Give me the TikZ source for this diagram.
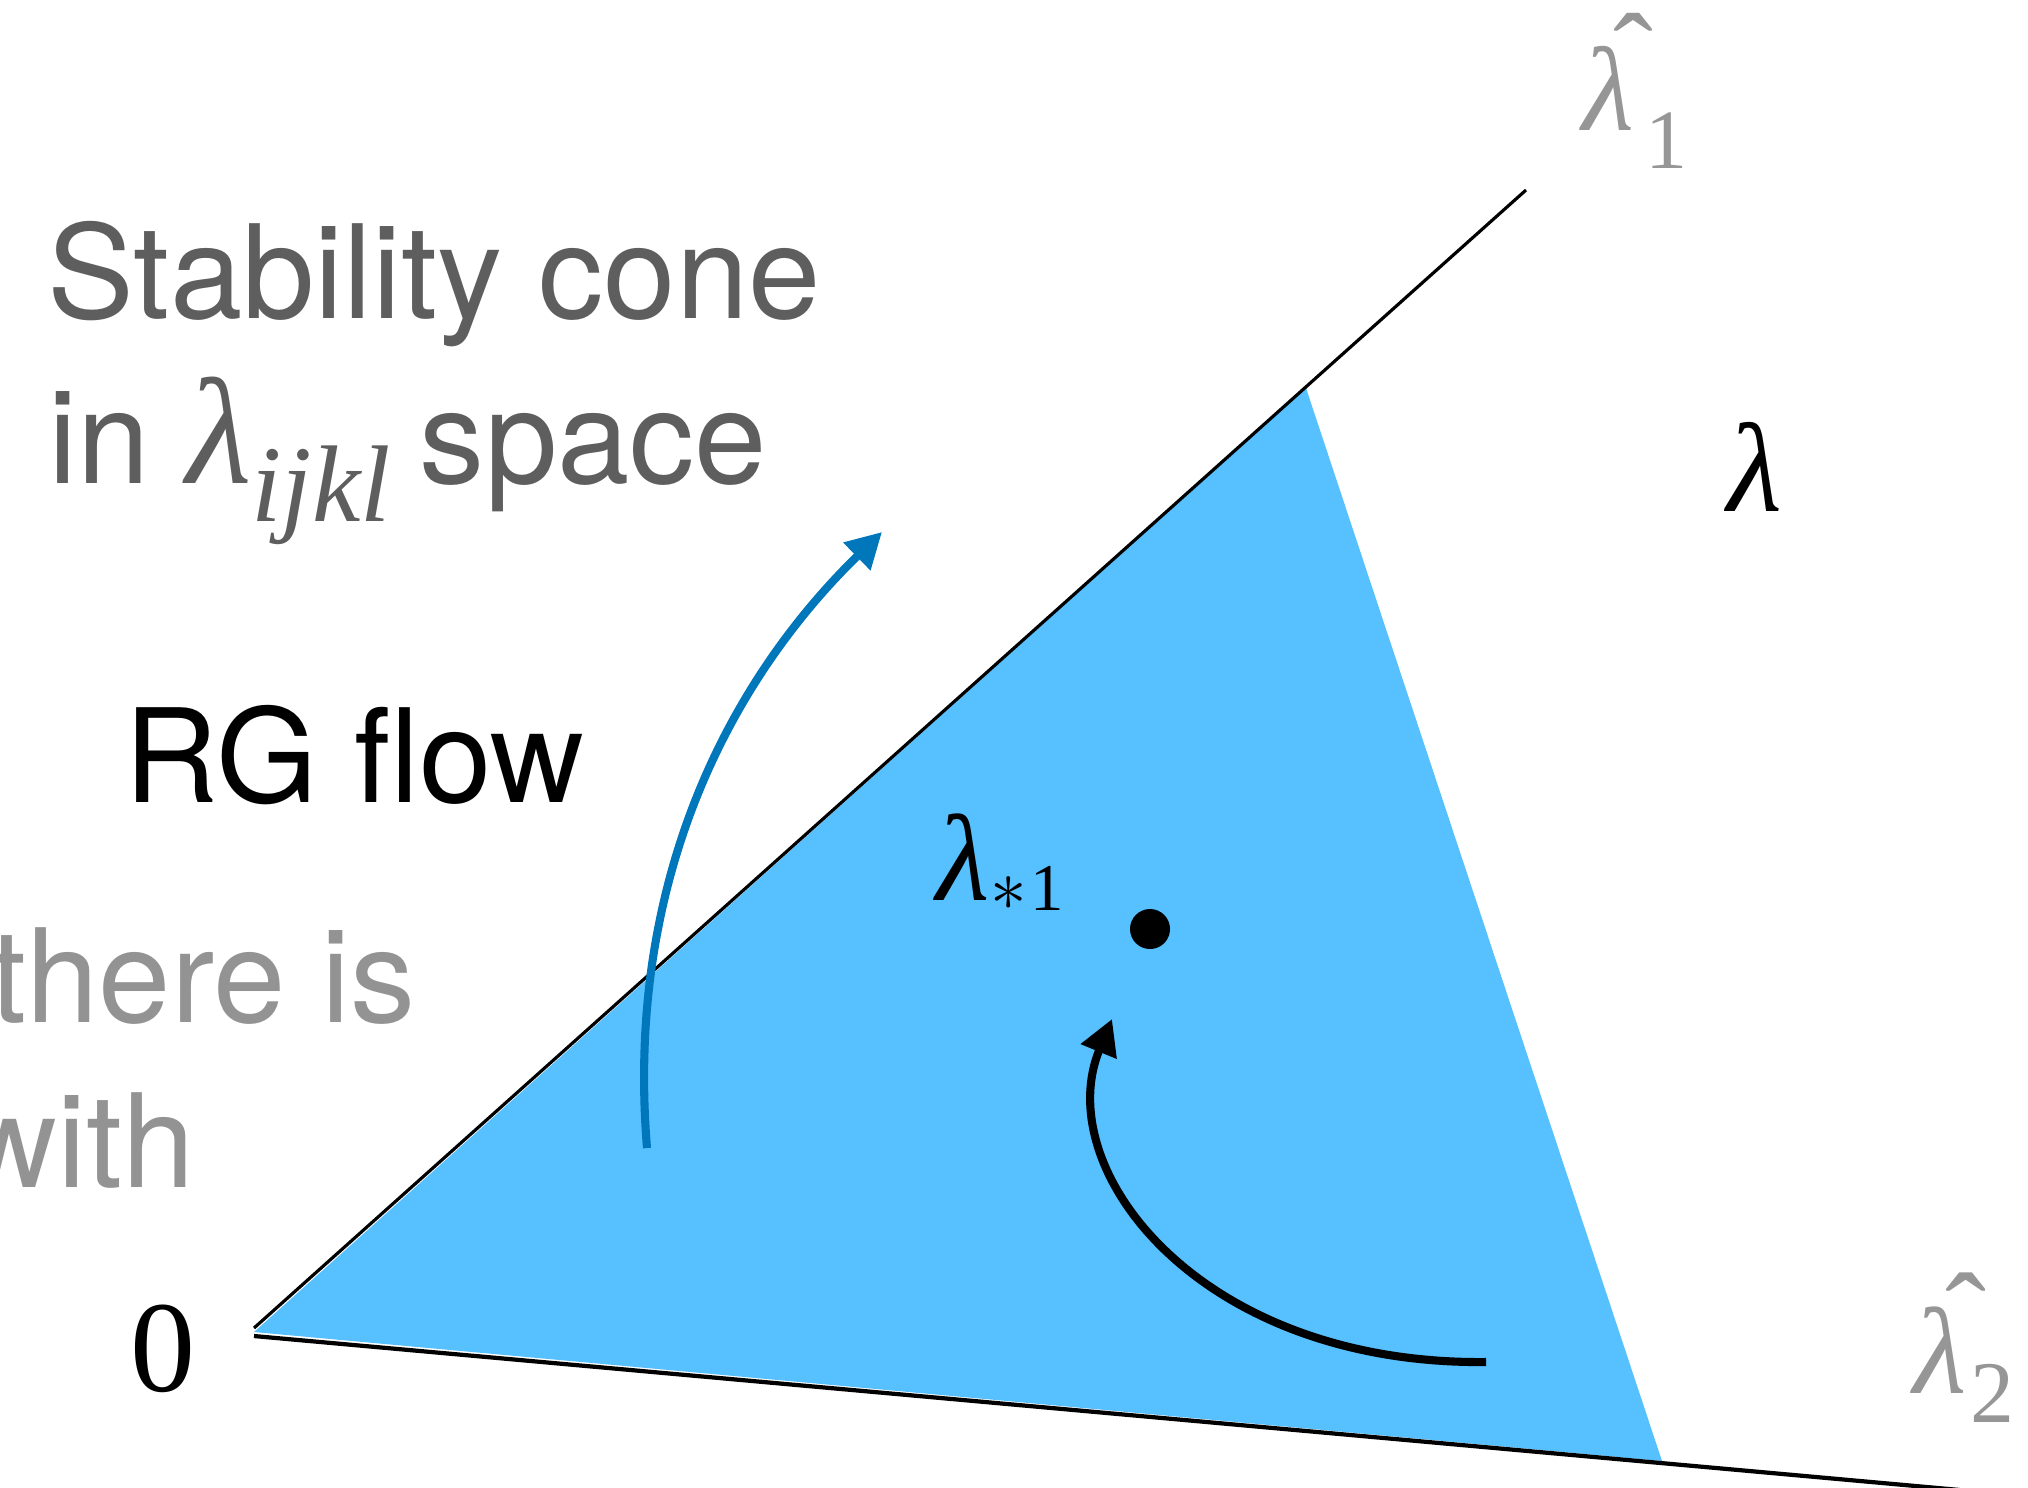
\documentclass[tikz,border=0pt]{standalone}
\usepackage{fontspec}
\setmainfont{TeX Gyre Heros}
\newfontfamily\tms{Liberation Serif}
\usetikzlibrary{arrows.meta}
\definecolor{conefill}{RGB}{87,192,255}
\definecolor{flowblue}{RGB}{0,118,187}
\definecolor{darkgraytxt}{RGB}{94,94,94}
\definecolor{lightgraytxt}{RGB}{147,147,147}
\definecolor{hatgray}{RGB}{150,150,150}
\newcommand\tlam{{\tms\itshape λ}}
\newcommand\hatlam{\rlap{\hspace{0.26em}\raisebox{0.28em}{\tms\upshape ˆ}}\tlam}
\newcommand\fsz[1]{\fontsize{#1}{#1}\selectfont}
\begin{document}
\begin{tikzpicture}[x=0.01cm,y=-0.01cm,
  lbl/.style={inner sep=0pt, anchor=base west},
  txtbig/.style={font=\fontsize{37}{40}\selectfont},
  axisline/.style={line width=0.9pt, black},
  flowarrow/.style={line width=2.3pt, -{Triangle[length=10pt,width=10.5pt]}}]
\useasboundingbox (0,0) rectangle (2028,1487);
% coordinates
\coordinate (O1) at (254,1328);
\coordinate (O2) at (254,1336);
\coordinate (Oc) at (254,1332);
\coordinate (A1) at (1526,190);
\coordinate (A2) at (1960,1490);
\coordinate (T1) at (1306,388);
\coordinate (T2) at (1662,1461);
% cone
\fill[conefill] (Oc) -- (T1) -- (T2) -- cycle;
\draw[axisline] (O1) -- (A1);
\draw[axisline, line width=1.2pt] (O2) -- (A2);
% fixed point
\node[circle, fill=black, minimum size=0.4cm, inner sep=0pt] (fp) at (1150,929) {};
% arrows
\coordinate (bs) at (647,1148);
\coordinate (be) at (882,532);
\draw[flowarrow, flowblue] (bs) .. controls (625,880) and (730,680) .. (be);
\coordinate (ks) at (1486,1362);
\coordinate (ke) at (1112,1019);
\draw[flowarrow, black] (ks) .. controls (1200,1365) and (1050,1170) .. (ke);
% texts
\node[lbl, txtbig, text=darkgraytxt] (t1) at (47,318) {Stability cone};
\node[lbl, txtbig, text=darkgraytxt] (t2) at (48,483) {in {\fsz{43}\tlam}\raisebox{-11pt}{\fsz{31}\tms\itshape ijkl}\hspace{-2pt} space};
\node[lbl, txtbig, text=black] (t3) at (124,802) {RG flow};
\node[lbl, txtbig, text=lightgraytxt] (t4) at (-10,1022) {there is};
\node[lbl, txtbig, text=lightgraytxt] (t5) at (-37,1187) {with};
\node[lbl, text=hatgray, font=\fsz{34}] (h1) at (1582,130) {\hatlam\hspace{3pt}\raisebox{-11pt}{\fsz{24}\tms 1}};
\node[lbl, text=black, font=\fsz{36}] (lam) at (1727,511) {\tlam};
\node[lbl, text=black, font=\fsz{35}] (ls) at (936,900) {\tlam\raisebox{-3pt}{\fsz{22}$\ast$}\raisebox{-3pt}{\fsz{19}\tms\hspace{1pt}1}};
\node[lbl, text=hatgray, font=\fsz{35}] (h2) at (1913,1393) {\hatlam\hspace{1pt}\raisebox{-8.5pt}{\fsz{25}\tms 2}};
\node[inner sep=0pt, font=\fsz{37}\tms] (zero) at (163,1349) {0};
\end{tikzpicture}
\end{document}
